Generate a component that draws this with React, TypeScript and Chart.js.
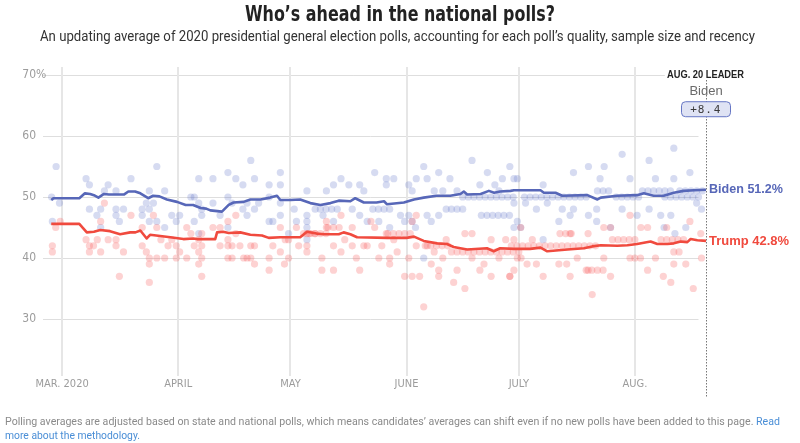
import React, { useEffect, useLayoutEffect, useRef } from 'react';
import { Chart, registerables } from 'chart.js';

Chart.register(...registerables);

// ---------- texts ----------
const titleText = 'Who’s ahead in the national polls?';
const subtitleText =
  'An updating average of 2020 presidential general election polls, accounting for each poll’s quality, sample size and recency';
const footerText =
  'Polling averages are adjusted based on state and national polls, which means candidates’ averages can shift even if no new polls have been added to this page.';
const footerLink1 = 'Read';
const footerLink2 = 'more about the methodology.';

// ---------- axes (x = days since Mar. 1, 2020) ----------
const monthTickDays = [0, 31, 61, 92, 122, 153];
const monthTickLabels = ['MAR. 2020', 'APRIL', 'MAY', 'JUNE', 'JULY', 'AUG.'];
const yTickValues = [30, 40, 50, 60, 70];
const xMinDay = -5.1;
const xMaxDay = 172;
const yMin = 20.82;
const yMax = 71.31;

// ---------- leader annotation ----------
const leaderDay = 172;
const leaderTitle = 'AUG. 20 LEADER';
const leaderName = 'Biden';
const leaderMargin = ['+', '8', '.', '4'];
const candidateNames = ['Biden', 'Trump'];
const latestValues = [51.2, 42.8];

// ---------- polling averages [day, %] ----------
const bidenAverage: number[][] = [
  [-2.9, 49.5], [-2.3, 49.8], [4.6, 49.8], [6.1, 50.6], [7.5, 50.5], [8.5, 50.3], [9.7, 49.9], [11.2, 50.5],
  [12.5, 50.4], [16.5, 50.4], [17.7, 50.9], [19.5, 50.9], [20.9, 50.6], [23, 49.8], [24.3, 50.2], [26, 50.1],
  [28, 49.6], [30.7, 49.2], [33, 48.7], [35, 48.7], [37, 48.2], [38.5, 48.1], [39.6, 47.8], [42.7, 47.6],
  [44.5, 48.7], [45.8, 49.1], [48.5, 49.2], [50.3, 49.6], [53, 49.6], [55.6, 49.9], [57.4, 50.2], [58.3, 49.5],
  [61, 49.5], [63.6, 49.6], [66.3, 49.0], [69, 48.7], [71.7, 49.0], [73.9, 49.4], [77, 49.3], [78.3, 49.8],
  [80.6, 49.1], [84, 49.1], [86, 49.3], [86.8, 48.8], [91.3, 49.1], [94, 49.6], [96.6, 49.9], [100, 50.2],
  [103.7, 50.2], [106.4, 50.5], [107.3, 50.9], [108.2, 50.4], [111.8, 50.5], [114, 51.0], [115.4, 50.7],
  [117, 50.9], [119.8, 51.0], [120.7, 51.1], [125, 51.1], [127.8, 51.1], [128.7, 50.7], [131.8, 50.7],
  [133.6, 50.2], [140.3, 50.3], [143, 49.6], [143.9, 49.9], [148.3, 50.2], [153.6, 50.3], [155.4, 50.6],
  [158, 50.2], [160.7, 50.2], [163.4, 50.7], [166, 51.0], [168.8, 51.1], [172, 51.2],
];

const trumpAverage: number[][] = [
  [-2.9, 45.6], [4.6, 45.6], [6.6, 44.2], [8.5, 44.3], [10.2, 44.6], [12.8, 44.4], [15.5, 43.9], [18.2, 44.2],
  [19.6, 44.2], [20.9, 44.5], [22.6, 43.2], [23.5, 43.8], [26.2, 43.6], [28.9, 43.4], [32.4, 43.1], [35, 43.2],
  [36, 43.1], [40.9, 43.1], [41.4, 44.2], [43, 44.3], [44.5, 44.1], [47.6, 44.2], [50.3, 43.8], [53.4, 43.7],
  [55.2, 43.3], [58.3, 43.4], [61, 43.4], [63.6, 43.4], [65.4, 44.3], [68, 44.0], [69.9, 43.9], [73.9, 43.9],
  [75.2, 44.2], [77, 43.9], [78.8, 43.4], [86.8, 43.3], [92, 43.3], [94, 43.5], [96.6, 42.8], [100.2, 42.4],
  [102.8, 42.3], [104.6, 41.8], [108.2, 41.4], [113.5, 41.6], [115.3, 41.1], [117, 41.6], [120.7, 41.5],
  [125, 41.5], [127.8, 41.7], [129.6, 41.1], [135, 41.4], [139.4, 41.6], [141.6, 41.9], [143.9, 42.1],
  [148.3, 42.0], [151, 42.1], [153.6, 42.3], [157.2, 42.7], [159, 42.3], [161.7, 42.3], [163.4, 42.4],
  [165.2, 42.7], [167, 42.6], [167.9, 43.1], [169.7, 42.9], [172, 42.8],
];

// ---------- individual polls [day, %] ----------
const bidenPolls: number[][] = [
  [-2.8, 50], [-2.6, 46], [-1.6, 55], [-0.7, 49],
  [6.4, 53], [7.3, 52], [7.3, 48], [9.3, 47], [10.3, 48], [10.3, 45], [11.3, 51], [12.3, 52], [14.4, 51],
  [14.4, 48], [14.4, 47], [15.3, 46], [16.4, 48], [18.4, 53], [21.4, 48], [21.4, 47], [22.5, 49], [23.3, 51],
  [23.3, 48], [23.3, 46], [24.4, 49], [25.3, 55], [25.3, 46], [27.4, 51], [27.4, 45], [29.3, 47], [30.5, 46],
  [31.4, 47], [34.4, 50], [35.3, 50], [35.3, 46], [36.5, 53], [36.5, 49], [37.3, 48], [37.3, 47], [36.5, 44],
  [40.3, 53], [40.3, 49], [42.2, 47], [44.3, 54], [44.3, 50], [44.3, 45], [46.4, 53], [45.4, 49], [48.3, 52],
  [48.3, 48], [49.4, 49], [49.4, 47], [50.4, 56], [51.4, 53], [51.4, 48], [52.5, 49], [55.3, 52], [55.3, 50],
  [55.3, 46], [56.3, 46], [58.3, 54], [58.3, 52], [58.3, 49], [58.3, 47], [60.5, 44],
  [62.6, 46], [62, 48], [65.4, 51], [65.4, 47], [65.4, 46], [65.4, 45], [65.4, 43], [67.6, 48], [69.7, 47],
  [70.6, 51], [72.5, 52], [72.5, 46], [74.5, 53], [76.6, 52], [77.5, 48], [79.5, 52], [79.5, 47], [80.6, 51],
  [81.5, 46], [83.5, 54], [84.6, 46], [86.6, 53], [86.6, 52], [87.5, 45], [88.6, 53], [90.4, 47], [91.5, 46],
  [69, 48], [70.5, 48], [72, 48], [73.5, 48], [83, 48], [84.5, 48], [86, 48], [87.5, 48],
  [92.6, 52], [92.6, 47], [93.5, 51], [93.5, 46], [94.4, 45], [94.6, 53], [96.6, 55], [97.5, 53], [96.6, 40],
  [97.5, 47], [98.6, 46], [99.4, 51], [100.6, 54], [100.6, 47], [101.7, 51], [102.6, 48], [103.6, 53],
  [105.5, 51], [109.5, 56], [111.6, 52], [113.6, 54], [115.6, 52], [116.7, 51], [117.6, 53], [119.6, 55],
  [120.7, 49], [120.7, 45], [121.6, 53], [122.5, 45],
  [104, 48], [105.5, 48], [107, 48],
  [107, 50], [108.5, 50], [110, 50], [111.5, 50], [113, 50], [114.5, 50], [116, 50], [117.5, 50], [119, 50],
  [120.5, 50],
  [112, 47], [113.5, 47], [115, 47], [116.5, 47], [118, 47], [119.5, 47],
  [123.5, 50], [125, 50], [126.5, 50], [128, 50], [129.5, 50], [131, 50], [132.5, 50], [134, 50], [135.5, 50],
  [137, 50], [138.5, 50], [140, 50],
  [120.7, 53], [121.6, 46], [123.8, 49], [126.7, 48], [128.5, 52], [128.5, 43], [129.6, 49], [132.7, 46],
  [133.6, 48], [135.7, 47], [136.6, 54], [136.6, 48], [140.6, 55], [140.6, 47], [142.8, 48], [142.8, 46],
  [143.7, 53], [144.8, 55], [146.5, 45], [149.6, 57], [149.6, 48], [151.7, 53], [153.6, 47],
  [143, 51], [144.5, 51], [146, 51],
  [148, 50], [149.5, 50], [151, 50], [152.5, 50], [154, 50],
  [156.8, 56], [156.8, 48], [158.5, 53], [159.9, 47], [160.8, 45], [162.6, 47], [163.4, 58], [163.4, 53],
  [163.7, 44], [166.6, 45], [167.7, 54], [170.8, 48], [169.5, 49],
  [155, 51], [156.5, 51], [158, 51], [159.5, 51], [161, 51], [162.5, 51],
  [161, 50], [162.5, 50], [164, 50], [165.5, 50], [167, 50], [168.5, 50], [170, 50],
  [165, 51], [166.5, 51], [168, 51], [169.5, 51], [171, 51],
];

const trumpPolls: number[][] = [
  [-2.6, 42], [-2.6, 41], [-1.7, 45], [-0.5, 46],
  [6.4, 43], [7.3, 42], [7.3, 41], [8.4, 42], [9.4, 43], [10.3, 46], [10.3, 41], [11.3, 49], [12.3, 43],
  [14.4, 43], [14.4, 42], [15.3, 37], [16.4, 41], [18.4, 47], [21.4, 45], [21.4, 42], [22.5, 41], [23.3, 40],
  [23.3, 39], [23.3, 36], [24.4, 47], [25.3, 45], [25.3, 40], [26.4, 43], [27.4, 40], [28.3, 42], [29.3, 43],
  [30.5, 42], [30.5, 40],
  [31.4, 41], [33.3, 45], [33.3, 40], [34.4, 44], [35.3, 42], [36.5, 43], [36.5, 41], [36.5, 39], [37.3, 44],
  [37.3, 42], [37.3, 40], [37.3, 37], [40.3, 45], [42.2, 42], [42.2, 45], [44.3, 46], [44.3, 43], [44.3, 42],
  [44.3, 40], [45.4, 40], [45.4, 42], [46.4, 47], [46.4, 44], [47.5, 42], [48.5, 40], [49.4, 40], [50.4, 42],
  [50.4, 40], [51.4, 39], [51.4, 42], [55.3, 40], [55.3, 38], [56.3, 42], [58.3, 45], [58.3, 41], [59.4, 39],
  [60.5, 40], [60.5, 43],
  [59.6, 43], [62.6, 45], [63.2, 42], [65.4, 44], [65.4, 42], [65.4, 41], [66.3, 44], [67.6, 44], [69.4, 40],
  [69.4, 38], [70.6, 46], [70.6, 45], [72.5, 38], [72.5, 42], [74.5, 47], [74.5, 41], [75.5, 43], [77.5, 45],
  [77.5, 42], [78.6, 40], [79.5, 38], [80.6, 42], [81.5, 42], [82.5, 46], [83.5, 45], [84.6, 40], [85.4, 42],
  [86.6, 44], [87.5, 40], [87.5, 39], [88.6, 43], [89.5, 41], [91.5, 37],
  [64.5, 44], [66, 44], [67.5, 44], [69, 44], [70.5, 44],
  [87, 44], [88.5, 44], [90, 44], [91.5, 44], [93, 44],
  [71, 45], [72.5, 45], [74, 45],
  [92.6, 40], [93.5, 46], [93.5, 37], [94.6, 47], [94.6, 42], [95.5, 37], [96.6, 32], [97.5, 42], [98.6, 39],
  [99.4, 41], [100.6, 38], [100.6, 37], [101.7, 40], [102.6, 43], [104.6, 36], [105.5, 38], [107.6, 35],
  [107.6, 44], [109.5, 40], [109.5, 44], [111.6, 38], [112.7, 39], [114.6, 37], [114.6, 43], [116.7, 40],
  [119.6, 37], [120.7, 38], [121.6, 40], [122.5, 45],
  [97, 42], [98.5, 42], [100, 42], [101.5, 42], [103, 42],
  [104, 41], [105.5, 41], [107, 41], [108.5, 41], [110, 41], [111.5, 41], [113, 41], [114.5, 41], [116, 41],
  [117.5, 41], [119, 41], [120.5, 41], [122, 41],
  [118.5, 43], [120.7, 43], [119.6, 37], [122.6, 40], [124.2, 39], [125.6, 43], [126.7, 39], [128.5, 37],
  [132.7, 39], [134.8, 39], [135.7, 44], [135.7, 37], [137.6, 40], [140.5, 44], [140.5, 38], [141.6, 34],
  [144.7, 45], [144.7, 40], [146.5, 45], [146.5, 37], [151.7, 47], [151.7, 40], [154.6, 45], [156.4, 45],
  [156.4, 38], [158.5, 40], [160.6, 37], [161.5, 45], [162.6, 36], [163.4, 41], [163.4, 39], [164.8, 41],
  [166.6, 39], [167.7, 46], [168.6, 35], [170.6, 44], [170.8, 40],
  [120, 42], [121.5, 42], [123, 42], [124.5, 42], [126, 42], [127.5, 42], [129, 42], [130.5, 42], [132, 42],
  [133.5, 42], [135, 42], [136.5, 42], [138, 42], [139.5, 42], [141, 42], [142.5, 42],
  [133, 44], [134.5, 44], [136, 44],
  [140, 38], [141.5, 38], [143, 38], [144.5, 38],
  [147, 43], [148.5, 43], [150, 43], [151.5, 43], [153, 43],
  [160, 43], [161.5, 43], [163, 43], [164.5, 43], [166, 43],
  [153, 40], [154.5, 40],
];

// ---------- colours ----------
const bidenColor = '#5767b8';
const trumpColor = '#f04a3e';
const bidenDot = 'rgba(92,110,200,0.25)';
const trumpDot = 'rgba(248,90,90,0.27)';

const condensed = '"Liberation Sans Narrow", "DejaVu Sans Condensed", "Roboto", sans-serif';

function FitText(props: {
  x: number; cy: number; w: number; lh: number; center?: boolean; style: React.CSSProperties; children: React.ReactNode;
}) {
  const ref = useRef<HTMLDivElement>(null);
  useLayoutEffect(() => {
    const el = ref.current;
    if (!el) return;
    el.style.transform = 'none';
    const natural = el.getBoundingClientRect().width;
    if (natural > 0) el.style.transform = `scaleX(${props.w / natural})`;
  }, []);
  const left = props.center ? props.x - props.w / 2 : props.x;
  return (
    <div
      ref={ref}
      style={{
        position: 'absolute', left, top: props.cy - props.lh / 2, lineHeight: `${props.lh}px`,
        whiteSpace: 'nowrap', transformOrigin: 'left center', ...props.style,
      }}
    >
      {props.children}
    </div>
  );
}

export default function App() {
  const canvasRef = useRef<HTMLCanvasElement>(null);

  useEffect(() => {
    const canvas = canvasRef.current;
    if (!canvas) return;

    const decor = {
      id: 'decor',
      beforeDatasetsDraw(chart: any) {
        const ctx = chart.ctx as CanvasRenderingContext2D;
        const xs = chart.scales.x;
        const ys = chart.scales.y;
        const area = chart.chartArea;
        ctx.save();
        // horizontal grid
        ctx.strokeStyle = '#dedede';
        ctx.lineWidth = 1;
        yTickValues.forEach((v) => {
          const y = Math.round(ys.getPixelForValue(v)) + 0.5;
          const xEnd = v === 70 ? xs.getPixelForValue(leaderDay - 11) : xs.getPixelForValue(leaderDay - 2);
          ctx.beginPath();
          ctx.moveTo(area.left, y);
          ctx.lineTo(xEnd, y);
          ctx.stroke();
        });
        // vertical month grid
        ctx.strokeStyle = '#e6e6e6';
        ctx.lineWidth = 2;
        monthTickDays.forEach((d) => {
          const x = Math.round(xs.getPixelForValue(d));
          ctx.beginPath();
          ctx.moveTo(x, area.top);
          ctx.lineTo(x, area.bottom + 1);
          ctx.stroke();
        });
        // y labels
        ctx.fillStyle = '#9c9c9c';
        ctx.font = `12px ${condensed}`;
        ctx.textBaseline = 'middle';
        yTickValues.forEach((v) => {
          const y = ys.getPixelForValue(v);
          ctx.textAlign = 'right';
          ctx.fillText(String(v), 36, y);
          if (v === 70) {
            ctx.textAlign = 'left';
            ctx.fillText('%', 36, y);
          }
        });
        // x labels
        ctx.font = `11px ${condensed}`;
        ctx.textAlign = 'center';
        monthTickDays.forEach((d, i) => {
          ctx.fillText(monthTickLabels[i], xs.getPixelForValue(d), area.bottom + 9);
        });
        // dotted leader line
        const lx = Math.round(xs.getPixelForValue(leaderDay)) + 0.5;
        ctx.strokeStyle = '#777';
        ctx.lineWidth = 1;
        ctx.setLineDash([1.5, 1.5]);
        ctx.beginPath();
        ctx.moveTo(lx, area.top + 13);
        ctx.lineTo(lx, area.bottom + 23);
        ctx.stroke();
        ctx.setLineDash([]);
        ctx.restore();
      },
      afterDatasetsDraw(chart: any) {
        const ctx = chart.ctx as CanvasRenderingContext2D;
        const xs = chart.scales.x;
        const ys = chart.scales.y;
        const lx = xs.getPixelForValue(leaderDay);
        ctx.save();
        ctx.textBaseline = 'middle';
        ctx.textAlign = 'center';
        // leader title
        ctx.fillStyle = '#222';
        ctx.font = 'bold 10px "Liberation Sans", Arial, sans-serif';
        ctx.fillText(leaderTitle, lx - 0.5, ys.getPixelForValue(70), 77);
        ctx.fillStyle = '#6a6a6a';
        ctx.font = '13px "Liberation Sans", Arial, sans-serif';
        ctx.fillText(leaderName, lx, ys.getPixelForValue(67.25));
        // margin box
        const bx = lx - 25, by = ys.getPixelForValue(65.7), bw = 49, bh = 15;
        ctx.beginPath();
        (ctx as any).roundRect(bx + 0.5, by + 0.5, bw, bh, 4);
        ctx.fillStyle = '#dfe3f4';
        ctx.fill();
        ctx.strokeStyle = '#6676c4';
        ctx.lineWidth = 1;
        ctx.stroke();
        ctx.fillStyle = '#3a3a3a';
        ctx.font = '11px "DejaVu Sans Mono", monospace';
        const offs = [-12.5, -5, 2.5, 11];
        leaderMargin.forEach((c, i) => ctx.fillText(c, lx + offs[i], by + bh / 2 + 1));
        // end labels
        ctx.textAlign = 'left';
        ctx.font = 'bold 13px "Liberation Sans", Arial, sans-serif';
        ctx.fillStyle = bidenColor;
        ctx.fillText(`${candidateNames[0]} ${latestValues[0]}%`, lx + 3, ys.getPixelForValue(latestValues[0]) - 0.5, 74);
        ctx.fillStyle = trumpColor;
        ctx.fillText(`${candidateNames[1]} ${latestValues[1]}%`, lx + 3, ys.getPixelForValue(latestValues[1]) + 0.5, 80);
        ctx.restore();
      },
    };

    const toXY = (arr: number[][]) => arr.map(([x, y]) => ({ x, y }));

    const chart = new Chart(canvas, {
      type: 'scatter',
      data: {
        datasets: [
          {
            label: 'Biden polls', data: toXY(bidenPolls), pointRadius: 3.6, pointBorderWidth: 0,
            pointBackgroundColor: bidenDot, backgroundColor: bidenDot, order: 4,
          },
          {
            label: 'Trump polls', data: toXY(trumpPolls), pointRadius: 3.6, pointBorderWidth: 0,
            pointBackgroundColor: trumpDot, backgroundColor: trumpDot, order: 3,
          },
          {
            label: 'Biden average', data: toXY(bidenAverage), showLine: true, pointRadius: 0, borderWidth: 2.6,
            borderColor: bidenColor, tension: 0, order: 2, clip: false as any, borderJoinStyle: 'round',
          } as any,
          {
            label: 'Trump average', data: toXY(trumpAverage), showLine: true, pointRadius: 0, borderWidth: 2.6,
            borderColor: trumpColor, tension: 0, order: 1, clip: false as any, borderJoinStyle: 'round',
          } as any,
        ],
      },
      options: {
        responsive: false,
        animation: false,
        layout: { padding: { left: 43, right: 94, top: 67, bottom: 68 } },
        plugins: { legend: { display: false }, tooltip: { enabled: false } },
        scales: {
          x: { type: 'linear', min: xMinDay, max: xMaxDay, display: false },
          y: { type: 'linear', min: yMin, max: yMax, display: false },
        },
      },
      plugins: [decor],
    });
    return () => chart.destroy();
  }, []);

  return (
    <div style={{ position: 'fixed', left: 0, top: 0, width: 800, height: 443, background: '#fff', overflow: 'hidden' }}>
      <canvas ref={canvasRef} width={800} height={443} style={{ position: 'absolute', left: 0, top: 0 }} />
      <FitText x={400} cy={14} w={310} lh={24} center
        style={{ font: `bold 21px ${condensed}`, color: '#222' }}>{titleText}</FitText>
      <FitText x={40} cy={37} w={715} lh={18}
        style={{ font: '14px "Roboto", sans-serif', color: '#333' }}>{subtitleText}</FitText>
      <FitText x={5} cy={421} w={775} lh={14}
        style={{ font: '11.5px "Roboto", sans-serif', color: '#8a8a8a' }}>
        {footerText} <span style={{ color: '#4a8ed6' }}>{footerLink1}</span>
      </FitText>
      <FitText x={5} cy={435} w={135} lh={14}
        style={{ font: '11.5px "Roboto", sans-serif', color: '#4a8ed6' }}>{footerLink2}</FitText>
    </div>
  );
}
